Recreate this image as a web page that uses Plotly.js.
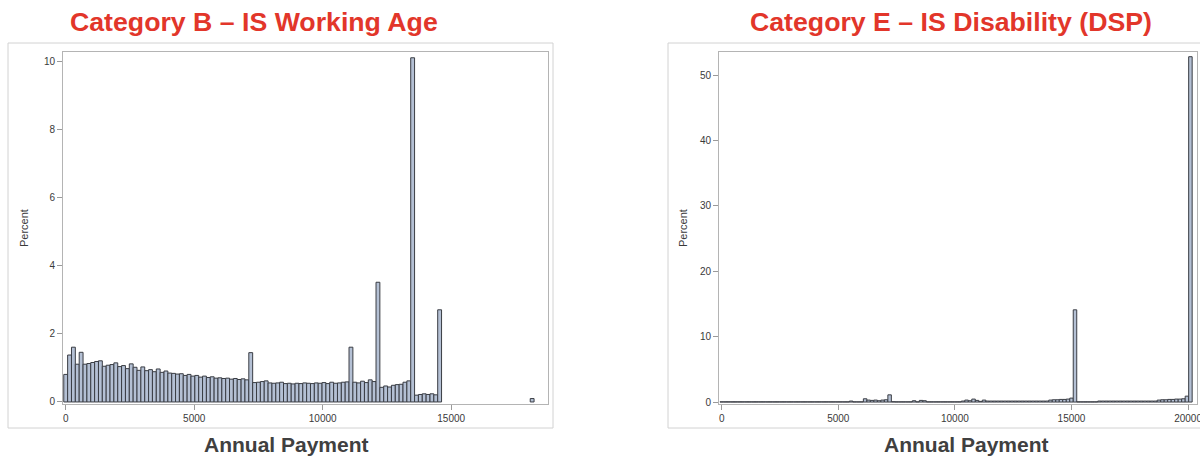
<!DOCTYPE html>
<html>
<head>
<meta charset="utf-8">
<script src="https://cdn.plot.ly/plotly-3.0.1.min.js"></script>
<style>
  html, body { margin: 0; padding: 0; background: #ffffff; }
  #chart { width: 1200px; height: 459px; }
</style>
</head>
<body>
<div id="chart"></div>
<script>
// Histogram bin width (annual payment, dollars)
const binWidthB = 150;
const binWidthE = 150;

// Category B – IS Working Age: bin midpoints and percent of recipients
const payB = [
  0, 150, 300, 450, 600, 750, 900, 1050, 1200, 1350,
  1500, 1650, 1800, 1950, 2100, 2250, 2400, 2550, 2700, 2850,
  3000, 3150, 3300, 3450, 3600, 3750, 3900, 4050, 4200, 4350,
  4500, 4650, 4800, 4950, 5100, 5250, 5400, 5550, 5700, 5850,
  6000, 6150, 6300, 6450, 6600, 6750, 6900, 7050, 7200, 7350,
  7500, 7650, 7800, 7950, 8100, 8250, 8400, 8550, 8700, 8850,
  9000, 9150, 9300, 9450, 9600, 9750, 9900, 10050, 10200, 10350,
  10500, 10650, 10800, 10950, 11100, 11250, 11400, 11550, 11700, 11850,
  12000, 12150, 12300, 12450, 12600, 12750, 12900, 13050, 13200, 13350,
  13500, 13650, 13800, 13950, 14100, 14250, 14400, 14550, 18150
];
const pctB = [
  0.81, 1.38, 1.61, 1.11, 1.46, 1.11, 1.13, 1.16, 1.19, 1.21,
  1.05, 1.08, 1.10, 1.15, 1.04, 1.07, 0.98, 1.12, 1.02, 0.93,
  1.03, 0.92, 0.95, 0.89, 0.97, 0.87, 0.91, 0.85, 0.84, 0.82,
  0.83, 0.78, 0.81, 0.76, 0.78, 0.73, 0.76, 0.72, 0.74, 0.70,
  0.71, 0.69, 0.70, 0.67, 0.69, 0.66, 0.68, 0.65, 1.45, 0.57,
  0.58, 0.60, 0.62, 0.56, 0.55, 0.56, 0.58, 0.54, 0.55, 0.53,
  0.55, 0.54, 0.56, 0.55, 0.54, 0.56, 0.55, 0.57, 0.54, 0.58,
  0.55, 0.56, 0.58, 0.59, 1.61, 0.58, 0.56, 0.61, 0.57, 0.65,
  0.60, 3.52, 0.43, 0.47, 0.44, 0.49, 0.51, 0.52, 0.58, 0.62,
  10.12, 0.20, 0.22, 0.24, 0.22, 0.24, 0.21, 2.71, 0.10
];

// Category E – IS Disability (DSP): bin midpoints and percent of recipients
const payE = [
  0, 150, 300, 450, 600, 750, 900, 1050, 1200, 1350,
  1500, 1650, 1800, 1950, 2100, 2250, 2400, 2550, 2700, 2850,
  3000, 3150, 3300, 3450, 3600, 3750, 3900, 4050, 4200, 4350,
  4500, 4650, 4800, 4950, 5100, 5250, 5400, 5550, 5700, 5850,
  6000, 6150, 6300, 6450, 6600, 6750, 6900, 7050, 7200, 7350,
  7500, 7650, 7800, 7950, 8100, 8250, 8400, 8550, 8700, 8850,
  9000, 9150, 9300, 9450, 9600, 9750, 9900, 10050, 10200, 10350,
  10500, 10650, 10800, 10950, 11100, 11250, 11400, 11550, 11700, 11850,
  12000, 12150, 12300, 12450, 12600, 12750, 12900, 13050, 13200, 13350,
  13500, 13650, 13800, 13950, 14100, 14250, 14400, 14550, 14700, 14850,
  15000, 15150, 15300, 15450, 15600, 15750, 15900, 16050, 16200, 16350,
  16500, 16650, 16800, 16950, 17100, 17250, 17400, 17550, 17700, 17850,
  18000, 18150, 18300, 18450, 18600, 18750, 18900, 19050, 19200, 19350,
  19500, 19650, 19800, 19950, 20100
];
const pctE = [
  0.03, 0.03, 0.03, 0.03, 0.03, 0.03, 0.03, 0.03, 0.03, 0.03,
  0.03, 0.03, 0.03, 0.03, 0.03, 0.03, 0.03, 0.03, 0.03, 0.03,
  0.03, 0.03, 0.03, 0.03, 0.03, 0.03, 0.03, 0.03, 0.03, 0.03,
  0.03, 0.03, 0.03, 0.03, 0.03, 0.03, 0.03, 0.15, 0.03, 0.03,
  0.03, 0.50, 0.30, 0.25, 0.30, 0.20, 0.30, 0.35, 1.10, 0.05,
  0.03, 0.03, 0.03, 0.03, 0.03, 0.20, 0.03, 0.25, 0.20, 0.03,
  0.03, 0.03, 0.03, 0.03, 0.03, 0.03, 0.03, 0.03, 0.03, 0.15,
  0.30, 0.20, 0.45, 0.25, 0.10, 0.30, 0.15, 0.15, 0.15, 0.15,
  0.15, 0.15, 0.15, 0.15, 0.15, 0.15, 0.15, 0.15, 0.15, 0.15,
  0.15, 0.15, 0.15, 0.15, 0.30, 0.35, 0.35, 0.40, 0.40, 0.45,
  0.60, 14.10, 0.03, 0.03, 0.03, 0.03, 0.03, 0.03, 0.15, 0.15,
  0.15, 0.15, 0.15, 0.15, 0.15, 0.15, 0.15, 0.15, 0.15, 0.15,
  0.15, 0.15, 0.15, 0.15, 0.15, 0.30, 0.35, 0.35, 0.40, 0.40,
  0.45, 0.45, 0.50, 0.90, 52.80
];

// Axis ticks
const xTicksB = [0, 5000, 10000, 15000];
const yTicksB = [0, 2, 4, 6, 8, 10];
const xTicksE = [0, 5000, 10000, 15000, 20000];
const yTicksE = [0, 10, 20, 30, 40, 50];

// Panel and axis text
const titleB = 'Category B \u2013 IS Working Age';
const titleE = 'Category E \u2013 IS Disability (DSP)';
const xLabel = 'Annual Payment';
const yLabel = 'Percent';

const W = 1200, H = 459;
const px = v => v / W;          // horizontal pixel -> paper
const py = v => 1 - v / H;      // vertical pixel -> paper

const barStyle = {
  color: '#b4c0d4',
  line: { color: '#3a3d44', width: 1 }
};

const tickFont = { family: 'Liberation Sans, Arial, sans-serif', size: 10, color: '#3a3a3a' };

function axisCommon(extra) {
  return Object.assign({
    showgrid: false,
    zeroline: false,
    showline: true,
    mirror: true,
    linecolor: '#b4b4b4',
    linewidth: 1,
    ticks: 'outside',
    ticklen: 5,
    tickwidth: 1,
    tickcolor: '#9a9a9a',
    tickfont: tickFont,
    tickformat: 'd',
    ticklabeloverflow: 'allow',
    fixedrange: true
  }, extra);
}

const traces = [
  {
    type: 'bar', x: payB, y: pctB, width: binWidthB,
    marker: barStyle, xaxis: 'x', yaxis: 'y',
    hoverinfo: 'x+y', showlegend: false
  },
  {
    type: 'bar', x: payE, y: pctE, width: binWidthE,
    marker: barStyle, xaxis: 'x2', yaxis: 'y2',
    hoverinfo: 'x+y', showlegend: false
  }
];

const titleFont = { family: 'Liberation Sans, Arial, sans-serif', size: 26.7, color: '#e2362a', weight: 'bold' };
const xLabelFont = { family: 'Liberation Sans, Arial, sans-serif', size: 21, color: '#404040', weight: 'bold' };
const yLabelFont = { family: 'Liberation Sans, Arial, sans-serif', size: 11, color: '#3a3a3a' };

const layout = {
  width: W, height: H,
  margin: { l: 0, r: 0, t: 0, b: 0 },
  paper_bgcolor: '#ffffff',
  plot_bgcolor: '#ffffff',
  bargap: 0,
  showlegend: false,
  xaxis: axisCommon({
    domain: [px(63), px(548)], anchor: 'y',
    range: [-105, 18767], tickvals: xTicksB
  }),
  yaxis: axisCommon({
    domain: [py(404), py(52)], anchor: 'x',
    range: [-0.06, 10.29], tickvals: yTicksB
  }),
  xaxis2: axisCommon({
    domain: [px(719), px(1197)], anchor: 'y2',
    range: [-116, 20382], tickvals: xTicksE
  }),
  yaxis2: axisCommon({
    domain: [py(404), py(52)], anchor: 'x2',
    range: [-0.3, 53.52], tickvals: yTicksE
  }),
  shapes: [
    { type: 'rect', xref: 'paper', yref: 'paper', layer: 'below',
      x0: px(8), x1: px(553), y0: py(428), y1: py(43),
      line: { color: '#d2d2d2', width: 1 }, fillcolor: 'rgba(0,0,0,0)' },
    { type: 'rect', xref: 'paper', yref: 'paper', layer: 'below',
      x0: px(668), x1: px(1206), y0: py(428), y1: py(43),
      line: { color: '#d2d2d2', width: 1 }, fillcolor: 'rgba(0,0,0,0)' }
  ],
  annotations: [
    { text: titleB, xref: 'paper', yref: 'paper', x: px(254), y: py(22),
      xanchor: 'center', yanchor: 'middle', showarrow: false, font: titleFont },
    { text: titleE, xref: 'paper', yref: 'paper', x: px(951), y: py(22),
      xanchor: 'center', yanchor: 'middle', showarrow: false, font: titleFont },
    { text: xLabel, xref: 'paper', yref: 'paper', x: px(286), y: py(444),
      xanchor: 'center', yanchor: 'middle', showarrow: false, font: xLabelFont },
    { text: xLabel, xref: 'paper', yref: 'paper', x: px(966), y: py(444),
      xanchor: 'center', yanchor: 'middle', showarrow: false, font: xLabelFont },
    { text: yLabel, xref: 'paper', yref: 'paper', x: px(24), y: py(228),
      xanchor: 'center', yanchor: 'middle', showarrow: false, textangle: -90, font: yLabelFont },
    { text: yLabel, xref: 'paper', yref: 'paper', x: px(683), y: py(228),
      xanchor: 'center', yanchor: 'middle', showarrow: false, textangle: -90, font: yLabelFont }
  ]
};

Plotly.newPlot('chart', traces, layout, { displayModeBar: false, staticPlot: true });
</script>
</body>
</html>
